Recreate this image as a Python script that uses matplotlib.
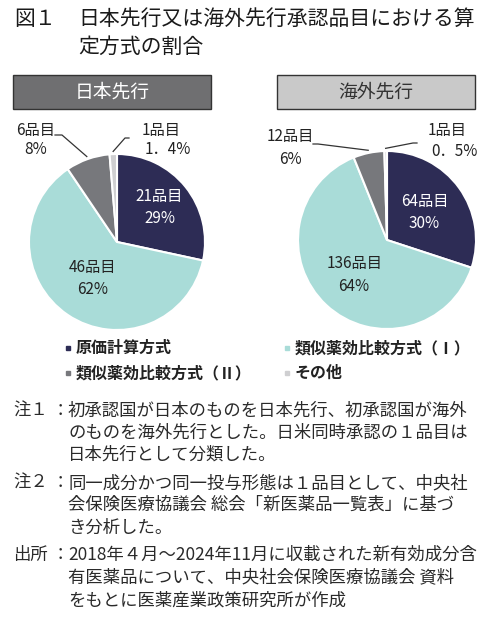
import numpy as np
import matplotlib
matplotlib.use("Agg")
import matplotlib.pyplot as plt
from matplotlib.patches import Rectangle

plt.rcParams['font.family'] = ['Noto Sans CJK JP', 'DejaVu Sans']

# ── データ ────────────────────────────────────────────
categories = ['原価計算方式', '類似薬効比較方式（Ⅰ）', '類似薬効比較方式（Ⅱ）', 'その他']
colors = ['#2d2c55', '#a9dcd8', '#77787c', '#cfcfd1']

groups = ['日本先行', '海外先行']
japan_counts = [21, 46, 6, 1]
japan_pct = ['29%', '62%', '8%', '1．4%']
overseas_counts = [64, 136, 12, 1]
overseas_pct = ['30%', '64%', '6%', '0．5%']

title_lines = ['日本先行又は海外先行承認品目における算', '定方式の割合']

notes = [
    ('注１', ['初承認国が日本のものを日本先行、初承認国が海外',
             'のものを海外先行とした。日米同時承認の１品目は',
             '日本先行として分類した。']),
    ('注２', ['同一成分かつ同一投与形態は１品目として、中央社',
             '会保険医療協議会 総会「新医薬品一覧表」に基づ',
             'き分析した。']),
    ('出所', ['2018年４月～2024年11月に収載された新有効成分含',
             '有医薬品について、中央社会保険医療協議会 資料',
             'をもとに医薬産業政策研究所が作成']),
]

W, H = 500, 625


def Y(y):
    # ピクセル座標(上から)→データ座標(下から)
    return H - y


fig = plt.figure(figsize=(5, 6.25), dpi=100)
ax = fig.add_axes([0, 0, 1, 1])
ax.set_xlim(0, W)
ax.set_ylim(0, H)
ax.axis('off')

# ── タイトル ──────────────────────────────────────────
ax.text(14, Y(19), '図１', fontsize=15, color='#1a1a1a', va='center', ha='left')
ax.text(78, Y(19), title_lines[0], fontsize=15, color='#1a1a1a', va='center', ha='left')
ax.text(78, Y(47), title_lines[1], fontsize=15, color='#1a1a1a', va='center', ha='left')

# ── 見出しボックス ────────────────────────────────────
boxes = [
    dict(x0=13, x1=211, fc='#6f6f71', tc='white'),
    dict(x0=277, x1=475, fc='#c9c9c9', tc='#333333'),
]
for g, b in zip(groups, boxes):
    ax.add_patch(Rectangle((b['x0'], Y(109)), b['x1'] - b['x0'], 34,
                           facecolor=b['fc'], edgecolor='#333333', lw=1.0))
    ax.text((b['x0'] + b['x1']) / 2, Y(92), g, fontsize=13.5, color=b['tc'],
            ha='center', va='center')

# ── 円グラフ ──────────────────────────────────────────
pies = [
    dict(counts=japan_counts, pct=japan_pct, cx=117, cy=242, r=88,
         inner=[0.62, 0.5],
         outer=[dict(elbow=(62, 135), end=(55, 135), tx=36, ty=(130, 150)),
                dict(elbow=(125, 138), end=(129, 138), tx=161, ty=(130, 150))]),
    dict(counts=overseas_counts, pct=overseas_pct, cx=387, cy=240, r=89,
         inner=[0.52, 0.54],
         outer=[dict(elbow=(318, 144), end=(313, 144), tx=290, ty=(137, 159)),
                dict(elbow=(413, 143), end=(417, 143), tx=447, ty=(131, 151))]),
]

for p in pies:
    wedges, _ = ax.pie(p['counts'], colors=colors, startangle=90, counterclock=False,
                       center=(p['cx'], Y(p['cy'])), radius=p['r'], frame=True,
                       wedgeprops=dict(edgecolor='white', linewidth=1.5))
    for i, w in enumerate(wedges):
        mid = np.deg2rad((w.theta1 + w.theta2) / 2)
        label = f"{p['counts'][i]}品目\n{p['pct'][i]}"
        if i < 2:
            d = p['inner'][i] * p['r']
            tc = 'white' if i == 0 else '#222222'
            ax.text(p['cx'] + d * np.cos(mid), Y(p['cy']) + d * np.sin(mid), label,
                    fontsize=11, color=tc, ha='center', va='center', linespacing=1.4)
        else:
            o = p['outer'][i - 2]
            sx = p['cx'] + 1.03 * p['r'] * np.cos(mid)
            sy = Y(p['cy']) + 1.03 * p['r'] * np.sin(mid)
            ax.plot([sx, o['elbow'][0], o['end'][0]],
                    [sy, Y(o['elbow'][1]), Y(o['end'][1])],
                    color='#333333', lw=0.9)
            ax.text(o['tx'], Y(o['ty'][0]), f"{p['counts'][i]}品目",
                    fontsize=11, color='#222222', ha='center', va='center')
            ax.text(o['tx'] + (7 if i == 3 else 0), Y(o['ty'][1]), p['pct'][i],
                    fontsize=11, color='#222222', ha='center', va='center')

ax.set_xlim(0, W)
ax.set_ylim(0, H)
ax.set_aspect('auto')
ax.axis('off')

# ── 凡例 ──────────────────────────────────────────────
leg_pos = [(68, 348), (287, 348), (68, 373), (287, 373)]
for (lx, ly), cat, c in zip(leg_pos, categories, colors):
    ax.plot(lx, Y(ly), marker='s', markersize=3.5, color=c, linestyle='none')
    ax.text(lx + 8, Y(ly), cat, fontsize=11.5, fontweight='bold', color='#222222',
            ha='left', va='center')

# ── 注記 ──────────────────────────────────────────────
line_y = [411, 433, 455, 483, 505, 528, 555, 577, 601]
k = 0
for head, lines in notes:
    ax.text(13, Y(line_y[k]), head, fontsize=12.5, color='#2a2a2a', ha='left', va='center')
    ax.text(52, Y(line_y[k]), '：', fontsize=12.5, color='#2a2a2a', ha='left', va='center')
    for ln in lines:
        ax.text(68, Y(line_y[k]), ln, fontsize=12.5, color='#2a2a2a', ha='left', va='center')
        k += 1

fig.savefig('out.png', dpi=100)
